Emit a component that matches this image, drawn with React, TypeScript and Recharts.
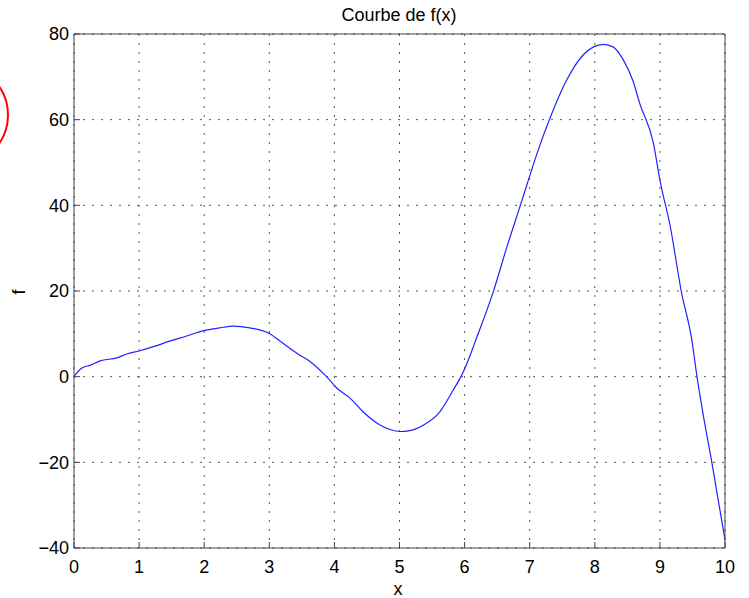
import React from 'react'
import { CartesianGrid, Line, LineChart, XAxis, YAxis } from 'recharts'

// Samples
const X_VALUES = [
  0, 0.12, 0.25, 0.4, 0.66, 0.81, 1.0, 1.22, 1.47, 1.73, 1.98, 2.24, 2.45, 2.7,
  3.0, 3.21, 3.45, 3.63, 3.88, 4.04, 4.24, 4.44, 4.7, 5.01, 5.16, 5.37, 5.62,
  5.83, 5.93, 6.0, 6.19, 6.44, 6.65, 6.85, 6.98, 7.13, 7.29, 7.57, 7.82, 7.98,
  8.13, 8.28, 8.44, 8.59, 8.69, 8.9, 9.0, 9.16, 9.33, 9.49, 9.57, 9.67, 9.8, 10.0,
]
const F_VALUES = [
  0, 2.0, 2.7, 3.7, 4.4, 5.3, 6.0, 7.0, 8.3, 9.5, 10.7, 11.4, 11.8, 11.4,
  10.1, 7.8, 5.2, 3.5, 0, -2.7, -5.0, -8.2, -11.3, -12.8, -12.6, -11.3, -8.2,
  -3.0, -0.4, 1.8, 9.3, 19.8, 30.3, 39.7, 45.9, 52.9, 59.5, 69.3, 75.1, 77.0,
  77.6, 77.0, 73.9, 68.9, 63.8, 54.5, 45.9, 35.0, 19.8, 8.6, 0, -9.3, -20.2, -38.1,
]

const X_TICKS = [0, 1, 2, 3, 4, 5, 6, 7, 8, 9, 10]
const Y_TICKS = [-40, -20, 0, 20, 40, 60, 80]

const TITLE = 'Courbe de f(x)'
const X_LABEL = 'x'
const Y_LABEL = 'f'

const data = X_VALUES.map((x, i) => ({ x, f: F_VALUES[i] }))

const FONT = '"Liberation Sans", Arial, Helvetica, sans-serif'
const AXIS = '#444'
const tickStyle = { fill: '#000', fontSize: 18, fontFamily: FONT }
const minus = (v: number) => String(v).replace('-', '\u2212')

export default function App() {
  return (
    <div style={{ position: 'absolute', left: 0, top: 0, width: 749, height: 598, background: '#fff' }}>
      <LineChart
        width={749}
        height={598}
        data={data}
        margin={{ top: 33, right: 23, bottom: 0, left: 0 }}
      >
        <CartesianGrid
          stroke="#555"
          strokeDasharray="2 7"
          horizontalValues={Y_TICKS}
          verticalValues={X_TICKS}
        />
        <XAxis
          dataKey="x"
          type="number"
          domain={[0, 10]}
          ticks={X_TICKS}
          height={50}
          stroke={AXIS}
          tickSize={-6}
          tickMargin={18}
          tick={tickStyle}
          interval={0}
        />
        <XAxis
          xAxisId="top"
          dataKey="x"
          orientation="top"
          type="number"
          domain={[0, 10]}
          ticks={X_TICKS}
          height={1}
          stroke={AXIS}
          tickSize={-6}
          tick={false}
          interval={0}
        />
        <YAxis
          type="number"
          domain={[-40, 80]}
          ticks={Y_TICKS}
          width={74}
          stroke={AXIS}
          tickSize={-6}
          tickMargin={11}
          tick={tickStyle}
          tickFormatter={minus}
          interval={0}
        />
        <YAxis
          yAxisId="right"
          orientation="right"
          type="number"
          domain={[-40, 80]}
          ticks={Y_TICKS}
          width={1}
          stroke={AXIS}
          tickSize={-6}
          tick={false}
          interval={0}
        />
        <Line
          dataKey="f"
          type="monotone"
          stroke="#2222ff"
          strokeWidth={1.2}
          dot={false}
          isAnimationActive={false}
        />
      </LineChart>
      <svg
        width={749}
        height={598}
        style={{ position: 'absolute', left: 0, top: 0, pointerEvents: 'none' }}
      >
        <text x={399} y={21} textAnchor="middle" fontSize={18} fontFamily={FONT} fill="#000">
          {TITLE}
        </text>
        <text x={398} y={595} textAnchor="middle" fontSize={18} fontFamily={FONT} fill="#000">
          {X_LABEL}
        </text>
        <text
          x={25}
          y={292}
          textAnchor="middle"
          fontSize={18}
          fontFamily={FONT}
          fill="#000"
          transform="rotate(-90 25 292)"
        >
          {Y_LABEL}
        </text>
        <circle cx={-42} cy={115} r={50} fill="none" stroke="#ff0000" strokeWidth={2} />
      </svg>
    </div>
  )
}
